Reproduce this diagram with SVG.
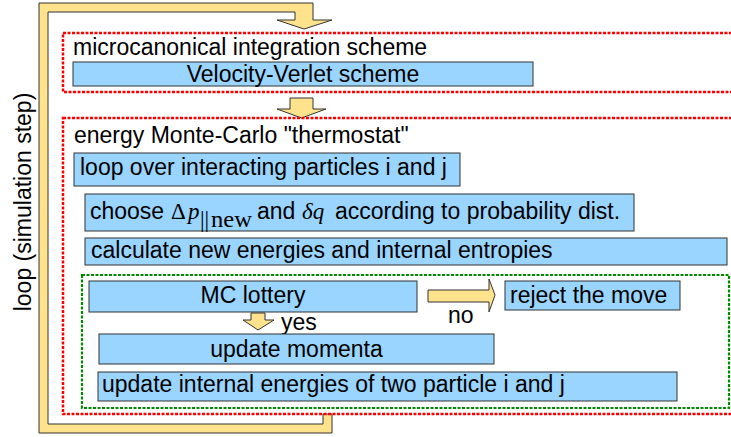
<svg xmlns="http://www.w3.org/2000/svg" width="731" height="437" viewBox="0 0 731 437">
<style>
text{font-family:"Liberation Sans",Arial,sans-serif;font-size:23px;fill:#000}
.box{fill:#99d5ff;stroke:#333;stroke-width:1}
.red{fill:none;stroke:#ff0000;stroke-width:2.5;stroke-dasharray:3 1.5}
.green{fill:none;stroke:#008a00;stroke-width:2.2;stroke-dasharray:3 1.5}
.arrow{fill:#ffe38c;stroke:#333;stroke-width:1}
.m{font-family:"Liberation Serif","Times New Roman",serif}
</style>
<rect width="731" height="437" fill="#fff"/>
<g id="connectors">
<polygon id="loop-arrow" class="arrow" points="323,414 323,424 48,424 48,12 295,12 295,20 277,20 304,29 332,20 313,20 313,3 39,3 39,433 332,433 332,414"/>
<polygon id="arrow-mid" class="arrow" points="290,98 313,98 313,109 326,109 301.5,118 277,109 290,109"/>
<polygon id="arrow-yes" class="arrow" points="251,313 265,313 265,320 274,320 258,330 243,320 251,320"/>
<polygon id="arrow-no" class="arrow" points="428,290 489,290 489,279 495,295 489,312 489,302 428,302"/>
</g>
<text transform="translate(31,202) rotate(-90)" text-anchor="middle" font-size="22.5">loop (simulation step)</text>
<g id="microcanonical">
<rect class="red" x="63" y="33" width="670" height="59"/>
<text x="73" y="55">microcanonical integration scheme</text>
</g>
<g id="velocity-verlet">
<rect class="box" x="73" y="62" width="460" height="24"/>
<text x="303" y="82" text-anchor="middle">Velocity-Verlet scheme</text>
</g>
<g id="thermostat">
<rect class="red" x="63" y="118" width="670" height="296"/>
<text x="74" y="143">energy Monte-Carlo "thermostat"</text>
</g>
<g id="loop-pairs">
<rect class="box" x="74" y="153" width="386" height="33"/>
<text x="80" y="175">loop over interacting particles i and j</text>
</g>
<g id="choose">
<rect class="box" x="85" y="194" width="549" height="37"/>
<text x="90" y="219">choose</text>
<text class="m" x="171" y="219" font-size="28">Δ</text>
<text class="m" x="188" y="219" font-size="25" font-style="italic">p</text>
<text class="m" x="200" y="227" font-size="18">||</text>
<text class="m" x="211" y="227" font-size="19" textLength="41" lengthAdjust="spacingAndGlyphs">new</text>
<text x="257" y="219">and</text>
<text class="m" x="302" y="219" font-size="26" font-style="italic">δq</text>
<text x="335" y="219">according to probability dist.</text>
</g>
<g id="calculate">
<rect class="box" x="85" y="238" width="642" height="27"/>
<text x="91" y="258">calculate new energies and internal entropies</text>
</g>
<g id="mc-block">
<rect class="green" x="82" y="275" width="647" height="133"/>
</g>
<g id="mc-lottery">
<rect class="box" x="89" y="281" width="328" height="31"/>
<text x="253" y="303" text-anchor="middle">MC lottery</text>
</g>
<text x="448" y="323">no</text>
<text x="281" y="330">yes</text>
<g id="reject">
<rect class="box" x="505" y="281" width="175" height="29"/>
<text x="510" y="303">reject the move</text>
</g>
<g id="update-momenta">
<rect class="box" x="99" y="334" width="395" height="30"/>
<text x="296.5" y="357" text-anchor="middle">update momenta</text>
</g>
<g id="update-energies">
<rect class="box" x="98" y="372" width="579" height="29"/>
<text x="102" y="392">update internal energies of two particle i and j</text>
</g>
</svg>
